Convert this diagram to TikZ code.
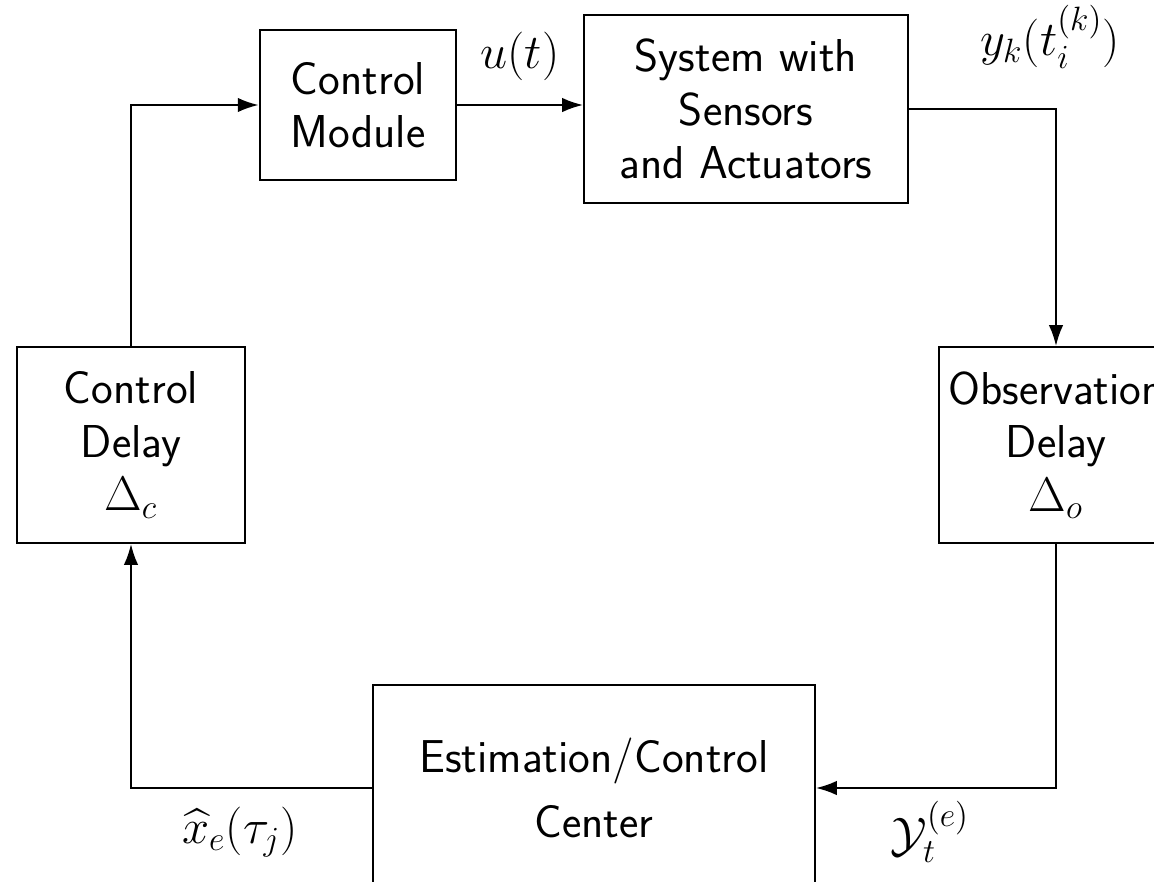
\documentclass[tikz,border=0pt]{standalone}
\usepackage{amsmath,amssymb}
\usetikzlibrary{arrows.meta, positioning}

\begin{document}
\begin{tikzpicture}[
  block/.style={draw, rectangle, line width=0.7pt, align=center,
                font=\sffamily\fontsize{16.4}{19}\selectfont},
  lbl/.style={font=\fontsize{16.4}{19}\selectfont},
  arr/.style={-{Latex[length=2.6mm,width=1.8mm]}, line width=0.7pt}
]
  \useasboundingbox (0,0) rectangle (14.425,-11.025);
  \node[block, minimum width=2.46cm, minimum height=1.875cm] (ctrl) at (4.475,-1.3125) {Control\\Module};
  \node[block, minimum width=4.05cm, minimum height=2.35cm] (sys) at (9.325,-1.3625) {System with\\Sensors\\and Actuators};
  \node[block, minimum width=2.875cm, minimum height=2.45cm] (obs) at (13.2,-5.5625) {Observation\\Delay\\$\Delta_o$};
  \node[block, minimum width=2.85cm, minimum height=2.45cm] (cdel) at (1.6375,-5.5625) {Control\\Delay\\$\Delta_c$};
  \node[block, minimum width=5.525cm, minimum height=2.575cm] (est) at (7.425,-9.85) {Estimation/Control\\[4pt]Center};

  \node[lbl] (u) at (6.5,-0.7) {$u(t)$};
  \node[lbl] (yk) at (13.125,-0.46) {$y_k(t_i^{(k)})$};
  \node[lbl] (xh) at (3.0,-10.4) {$\widehat{x}_e(\tau_j)$};
  \node[lbl] (yt) at (11.625,-10.4) {$\mathcal{Y}_t^{(e)}$};

  \draw[arr] (ctrl.east) -- (ctrl.east -| sys.west);
  \draw[arr] (sys.east) -| (obs.north);
  \draw[arr] (obs.south) |- (est.east);
  \draw[arr] (est.west) -| (cdel.south);
  \draw[arr] (cdel.north) |- (ctrl.west);
\end{tikzpicture}
\end{document}
